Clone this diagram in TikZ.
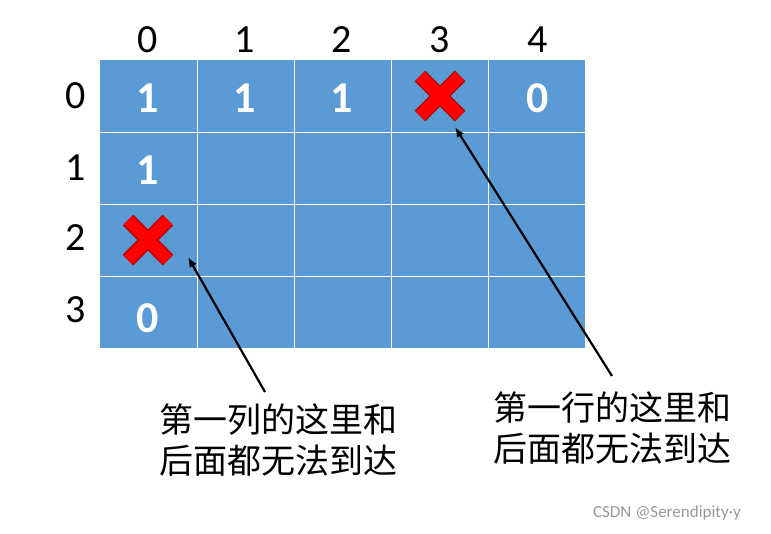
\documentclass[tikz,border=0pt]{standalone}
\usepackage{fontspec}
\usetikzlibrary{arrows.meta}
\setmainfont{Carlito}
\newfontfamily\cjk{Noto Sans CJK SC}
\definecolor{cellblue}{RGB}{91,155,213}
\definecolor{xdark}{RGB}{190,0,0}
\begin{document}
\begin{tikzpicture}[x=1pt,y=-1pt,
  lab/.style={font=\fontsize{40}{44}\selectfont, text=black, inner sep=0},
  num/.style={font=\bfseries\fontsize{44}{48}\selectfont, text=white, inner sep=0},
  note/.style={font=\cjk\fontsize{34}{41}\selectfont, align=left, inner sep=0},
  arr/.style={-{Latex[length=10pt,width=8pt]}, line width=2.2pt}]
\useasboundingbox (0,0) rectangle (771,533);
\fill[cellblue] (100,60) rectangle (585,348);
\foreach \x in {197,294,391,488} \draw[white,line width=1pt] (\x,60) -- (\x,348);
\foreach \y in {132,204,276} \draw[white,line width=1pt] (100,\y) -- (585,\y);
\foreach \c/\x in {0/148,1/245,2/342,3/440,4/538} \node[lab] (c\c) at (\x,40) {\c};
\foreach \r/\y in {0/96,1/168,2/238,3/310} \node[lab] (r\r) at (76,\y) {\r};
\node[num] (n00) at (148,98) {1};
\node[num] (n01) at (245,98) {1};
\node[num] (n02) at (342,98) {1};
\node[num] (n04) at (538,98) {0};
\node[num] (n10) at (148,170) {1};
\node[num] (n30) at (148,318) {0};
\foreach \n/\cx/\cy in {xa/440/96,xb/148/240}{
  \coordinate (\n) at (\cx,\cy);
  \draw[line width=15pt,xdark] ([shift={(-20,-20)}]\n) -- ([shift={(20,20)}]\n) ([shift={(-20,20)}]\n) -- ([shift={(20,-20)}]\n);
  \draw[line width=12pt,red] ([shift={(-20,-20)}]\n) -- ([shift={(20,20)}]\n) ([shift={(-20,20)}]\n) -- ([shift={(20,-20)}]\n);
}
\node[note] (t1) at (278,440) {第一列的这里和\\后面都无法到达};
\node[note] (t2) at (612,428) {第一行的这里和\\后面都无法到达};
\coordinate (a1) at (265,392);
\coordinate (a2) at (612,376);
\draw[arr] (a1) -- (188,257);
\draw[arr] (a2) -- (455,127);
\node[font=\fontsize{17}{19}\selectfont, text=gray!80, inner sep=0] (wm) at (667,513) {CSDN @Serendipity·y};
\end{tikzpicture}
\end{document}
